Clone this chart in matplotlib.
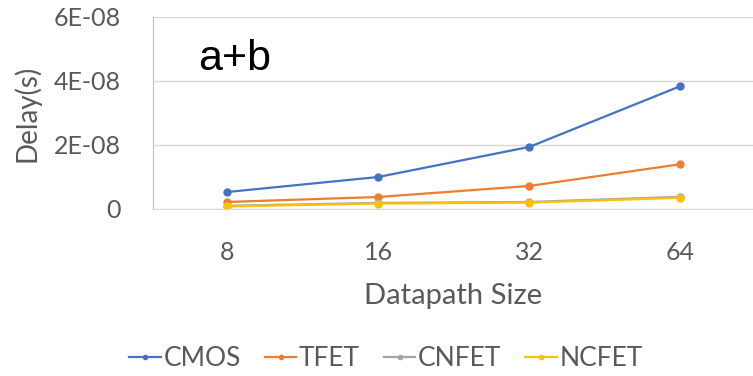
import matplotlib
matplotlib.use("Agg")
import matplotlib.pyplot as plt

categories = ["8", "16", "32", "64"]
cmos = [0.53e-8, 1.0e-8, 1.94e-8, 3.84e-8]
tfet = [0.22e-8, 0.375e-8, 0.72e-8, 1.40e-8]
cnfet = [0.10e-8, 0.19e-8, 0.22e-8, 0.38e-8]
ncfet = [0.08e-8, 0.17e-8, 0.20e-8, 0.35e-8]
yticks = [0, 2e-8, 4e-8, 6e-8]
ytick_labels = ["0", "2E-08", "4E-08", "6E-08"]

series = [("CMOS", cmos, "#4472C4"), ("TFET", tfet, "#ED7D31"),
          ("CNFET", cnfet, "#A5A5A5"), ("NCFET", ncfet, "#FFC000")]

plt.rcParams['font.family'] = ['Lato', 'DejaVu Sans']
fig = plt.figure(figsize=(7.53, 3.76), dpi=100)
ax = fig.add_axes([153/753, 1-209/376, 600/753, 192/376])
x = list(range(len(categories)))
for name, vals, col in series:
    ax.plot(x, vals, color=col, lw=1.6, marker='o', ms=5, label=name)

ax.set_xlim(-0.49, 3.48)
ax.set_ylim(0, 6e-8)
ax.set_yticks(yticks)
ax.set_yticklabels(ytick_labels)
ax.set_xticks(x)
ax.set_xticklabels(categories)
ax.grid(axis='y', color='#d9d9d9', lw=1)
ax.set_axisbelow(True)
for s in ['top', 'right']:
    ax.spines[s].set_visible(False)
ax.spines['left'].set_color('#bfbfbf')
ax.spines['bottom'].set_color('#d9d9d9')
ax.tick_params(length=0, colors='#595959')
ax.tick_params(axis='y', pad=23, labelsize=18)
ax.tick_params(axis='x', pad=23, labelsize=18)
ax.set_xlabel("Datapath Size", color='#595959', fontsize=21, labelpad=14)
fig.text(27/753, 1-162/376, "Delay(s)", rotation=90, color='#595959',
         fontsize=20, ha='center', va='bottom')
ax.text(0.075, 0.724, "a+b", transform=ax.transAxes, fontsize=31, color='black',
        family='Liberation Sans', va='baseline')
fig.legend(loc='center', bbox_to_anchor=(386/753, 1-359/376), ncol=4, frameon=False,
           fontsize=19, handlelength=1.2, handletextpad=0.1, columnspacing=0.9,
           labelcolor='#595959', markerscale=0.6)
fig.savefig("out.png", dpi=100)
